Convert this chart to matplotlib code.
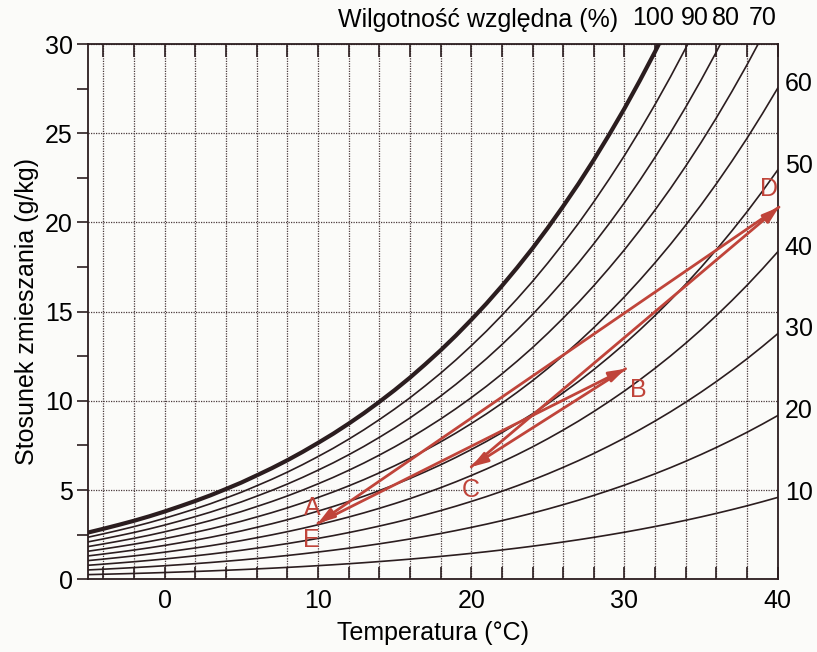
import numpy as np
import matplotlib
matplotlib.use("Agg")
import matplotlib.pyplot as plt
from matplotlib.ticker import MultipleLocator

# -------------------------------
# DANE
# -------------------------------
temps = np.arange(-5, 41)  # degC
# stosunek zmieszania przy nasyceniu (g/kg), odczyt co 1 degC
sat = np.array([
    2.62, 2.83, 3.05, 3.28, 3.53, 3.80, 4.09, 4.39, 4.71, 5.06,
    5.42, 5.82, 6.23, 6.67, 7.14, 7.64, 8.16, 8.72, 9.31, 9.94,
    10.60, 11.30, 12.05, 12.83, 13.66, 14.54, 15.46, 16.44, 17.47, 18.55,
    19.70, 20.91, 22.17, 23.51, 24.92, 26.39, 27.95, 29.58, 31.29, 33.09,
    34.98, 36.96, 39.04, 41.21, 43.50, 45.89,
])
rh_levels = [10, 20, 30, 40, 50, 60, 70, 80, 90, 100]
rh_top = [100, 90, 80, 70]
rh_right = [10, 20, 30, 40, 50, 60]

# punkty przemian
points = {
    "A": (10.0, 3.14),
    "B": (30.07, 11.8),
    "C": (20.0, 6.3),
    "D": (40.08, 20.86),
    "E": (10.0, 3.14),
}
path = ["A", "B", "C", "D", "E"]
label_pos = {
    "A": (9.6, 4.0),
    "B": (30.9, 10.6),
    "C": (20.0, 5.0),
    "D": (39.4, 21.9),
    "E": (9.6, 2.2),
}

# -------------------------------
# STYL
# -------------------------------
plt.rcParams["font.family"] = ["Liberation Sans", "DejaVu Sans"]
FS = 18
DARK = "#2b1d1f"
RED = "#c0443a"

fig = plt.figure(figsize=(8.17, 6.52), dpi=100)
fig.patch.set_facecolor("#fbfbf9")
ax = fig.add_axes([0.1077, 0.1115, 0.8443, 0.821])
ax.set_facecolor("#fbfbf9")

# krzywe wilgotnosci wzglednej
for rh in rh_levels:
    lw = 3.0 if rh == 100 else 1.2
    ax.plot(temps, sat * rh / 100.0, color=DARK, lw=lw, zorder=3)

ax.set_xlim(-5, 40)
ax.set_ylim(0, 30)

ax.xaxis.set_major_locator(MultipleLocator(10))
ax.xaxis.set_minor_locator(MultipleLocator(2))
ax.yaxis.set_major_locator(MultipleLocator(5))
ax.yaxis.set_minor_locator(MultipleLocator(2.5))

gkw = dict(ls=(0, (1, 1)), color="#4a3a3c", lw=0.9)
ax.grid(True, which="minor", axis="x", **gkw)
ax.grid(True, which="major", axis="x", **gkw)
ax.grid(True, which="major", axis="y", **gkw)

ax.tick_params(axis="x", which="both", direction="in", length=9, width=1.2,
               color=DARK, top=True, labelsize=FS, pad=7)
ax.tick_params(axis="y", which="both", direction="out", length=8, width=1.2,
               color=DARK, labelsize=FS, pad=3)
for s in ax.spines.values():
    s.set_color(DARK)
    s.set_linewidth(1.3)

ax.set_xlabel("Temperatura (°C)", fontsize=FS, labelpad=6)
ax.set_ylabel("Stosunek zmieszania (g/kg)", fontsize=FS, labelpad=4)

# podpisy wilgotnosci
ax.text(0.565, 1.045, "Wilgotność względna (%)", transform=ax.transAxes,
        ha="center", va="center", fontsize=FS)
top_dx = [-4, 5, 4, 3]
for rh, dx in zip(rh_top, top_dx):
    xc = np.interp(30, sat * rh / 100.0, temps)
    ax.annotate(str(rh), xy=(xc, 30), xytext=(dx, 19), textcoords="offset points",
                ha="center", va="center", fontsize=FS, annotation_clip=False)
for rh in rh_right:
    yc = sat[-1] * rh / 100.0
    ax.annotate(str(rh), xy=(40, yc), xytext=(5, 3), textcoords="offset points",
                ha="left", va="center", fontsize=FS, annotation_clip=False)

# strzalki przemian
for p0, p1 in zip(path[:-1], path[1:]):
    ax.annotate("", xy=points[p1], xytext=points[p0],
                arrowprops=dict(arrowstyle="-|>,head_length=1.0,head_width=0.32",
                                color=RED, lw=2, shrinkA=0, shrinkB=0),
                zorder=5, annotation_clip=False)
for name, (lx, ly) in label_pos.items():
    ax.text(lx, ly, name, color=RED, fontsize=FS, ha="center", va="center", zorder=6)

fig.savefig("out.png", dpi=100, facecolor=fig.get_facecolor())
